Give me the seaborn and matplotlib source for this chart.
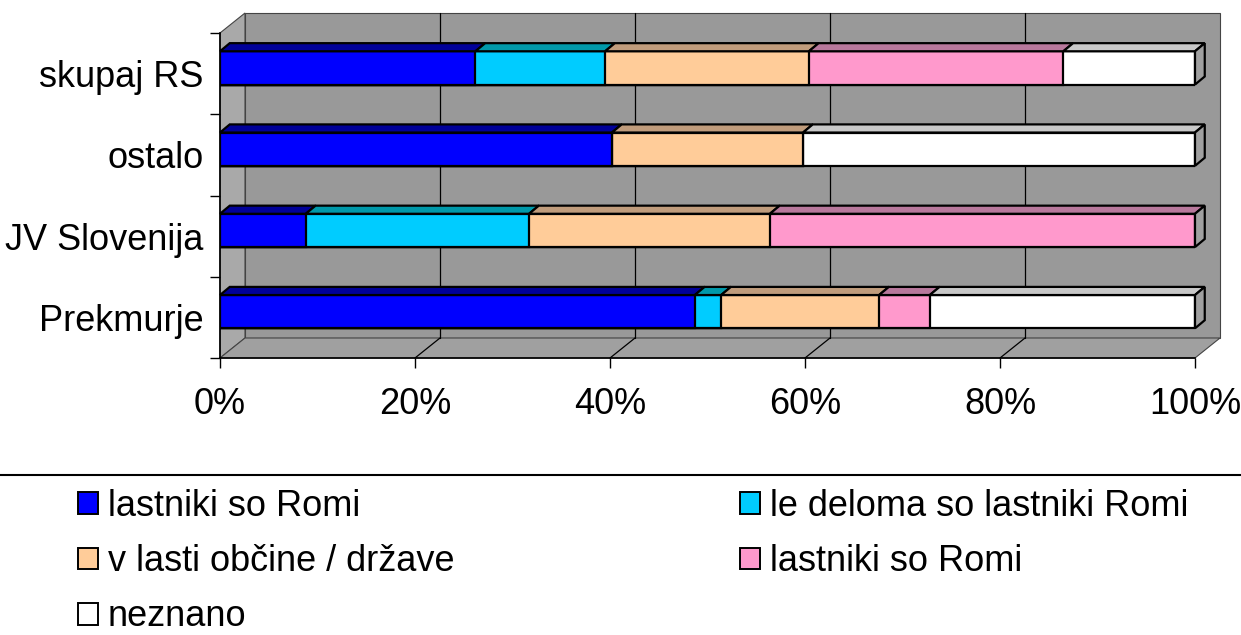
import numpy as np
import pandas as pd
import matplotlib
matplotlib.use('Agg')
import matplotlib.pyplot as plt
from matplotlib.patches import Patch, Polygon
from matplotlib.lines import Line2D
import seaborn as sns

# data (shares in %)
categories = ['skupaj RS', 'ostalo', 'JV Slovenija', 'Prekmurje']
series_labels = ['lastniki so Romi', 'le deloma so lastniki Romi',
                 'v lasti občine / države', 'lastniki so Romi', 'neznano']
romi = [26.2, 40.2, 8.8, 48.7]
deloma = [13.3, 0.0, 22.9, 2.7]
obcina = [20.9, 19.6, 24.7, 16.2]
romi_2 = [26.1, 0.0, 43.6, 5.2]
neznano = [13.5, 40.2, 0.0, 27.2]
x_ticks = [0, 20, 40, 60, 80, 100]

face_colors = ['#0000ff', '#00ccff', '#ffcc99', '#ff99cc', '#ffffff']
top_colors = ['#000099', '#0099aa', '#c09c7c', '#b8789c', '#c8c8c8']

sns.set_style('white')
plt.rcParams['font.family'] = ['Liberation Sans', 'DejaVu Sans']
plt.rcParams['text.color'] = 'black'
plt.rcParams['xtick.color'] = 'black'
plt.rcParams['ytick.color'] = 'black'
plt.rcParams['xtick.labelcolor'] = 'black'
plt.rcParams['ytick.labelcolor'] = 'black'

values = np.array([romi, deloma, obcina, romi_2, neznano])
cum = values.cumsum(axis=0)

W, H = 1241, 635
fig = plt.figure(figsize=(W / 100, H / 100), dpi=100)
ax = fig.add_axes([220 / W, 1 - 358 / H, 975 / W, 325 / H])
ax.set_facecolor('none')

# stacked bars: draw cumulative totals from the right-most segment down
bar_w = 0.41
for i in reversed(range(len(values))):
    df = pd.DataFrame({'category': categories, 'value': cum[i]})
    sns.barplot(data=df, x='value', y='category', orient='h', color=face_colors[i],
                saturation=1, edgecolor='black', linewidth=1.6, width=bar_w,
                ax=ax, zorder=3)
bars = list(ax.patches)
shift = 0.07
for p in bars:
    p.set_y(p.get_y() - shift)

# fake 3D box (back wall, left wall, floor)
dx, dy = 25 / 975, 20 / 325
box = dict(transform=ax.transAxes, clip_on=False, closed=True, lw=0.8, ec='#444444')
ax.add_patch(Polygon([(dx, dy), (1 + dx, dy), (1 + dx, 1 + dy), (dx, 1 + dy)],
                     fc='#999999', zorder=0, **box))
ax.add_patch(Polygon([(0, 0), (dx, dy), (dx, 1 + dy), (0, 1)], fc='#a9a9a9', zorder=0.2, **box))
ax.add_patch(Polygon([(0, 0), (1, 0), (1 + dx, dy), (dx, dy)], fc='#a0a0a0', zorder=0.2, **box))
for t in x_ticks[1:-1]:
    f = t / 100
    ax.plot([f + dx, f + dx], [dy, 1 + dy], transform=ax.transAxes, color='black',
            lw=0.9, clip_on=False, zorder=0.5)
    ax.plot([f, f + dx], [0, dy], transform=ax.transAxes, color='black',
            lw=0.9, clip_on=False, zorder=0.5)

# top faces and side face of every bar
ddx, ddy = 1.0, 0.1
for j in range(len(categories)):
    y_top = j - bar_w / 2 - shift
    last = None
    for i in range(len(values)):
        v = values[i][j]
        if v <= 0:
            continue
        x0, x1 = cum[i][j] - v, cum[i][j]
        ax.add_patch(Polygon([(x0, y_top), (x1, y_top), (x1 + ddx, y_top - ddy), (x0 + ddx, y_top - ddy)],
                             closed=True, fc=top_colors[i], ec='black', lw=1.6,
                             clip_on=False, zorder=3))
        last = x1
    ax.add_patch(Polygon([(last, y_top), (last + ddx, y_top - ddy),
                          (last + ddx, y_top - ddy + bar_w), (last, y_top + bar_w)],
                         closed=True, fc='#a0a0a0', ec='black', lw=1.6, clip_on=False, zorder=3))

ax.set_xlim(0, 100)
ax.set_ylim(len(categories) - 0.5, -0.5)
ax.set_xticks(x_ticks)
ax.set_xticklabels([f'{t}%' for t in x_ticks])
ax.set_yticks(range(len(categories)))
ax.set_yticklabels(categories)
ax.set_yticks(np.arange(-0.5, len(categories), 1), minor=True)
ax.set_xlabel('')
ax.set_ylabel('')
ax.tick_params(axis='x', which='major', bottom=True, length=7, width=1, pad=14,
               labelsize=26, color='black')
ax.tick_params(axis='y', which='major', left=True, length=0, pad=12, labelsize=26)
ax.tick_params(axis='y', which='minor', left=True, length=7, width=1, color='black')
for s in ['top', 'right']:
    ax.spines[s].set_visible(False)
for s in ['left', 'bottom']:
    ax.spines[s].set_color('black')
    ax.spines[s].set_linewidth(1.2)

# separator line and legend
fig.add_artist(Line2D([0, 1], [1 - 475 / H] * 2, transform=fig.transFigure,
                      color='black', lw=1.5))
handles = [Patch(fc=c, ec='black', lw=1.4) for c in face_colors]
order = [0, 2, 4, 1, 3]
fig.legend([handles[k] for k in order], [series_labels[k] for k in order],
           loc='upper left', bbox_to_anchor=(78 / W, 1 - 489 / H), ncol=2,
           frameon=False, fontsize=26, handlelength=0.55, handleheight=0.55,
           handletextpad=0.28, columnspacing=7.9, labelspacing=0.56,
           borderaxespad=0, borderpad=0, labelcolor='black')

fig.savefig('out.png', dpi=100)
